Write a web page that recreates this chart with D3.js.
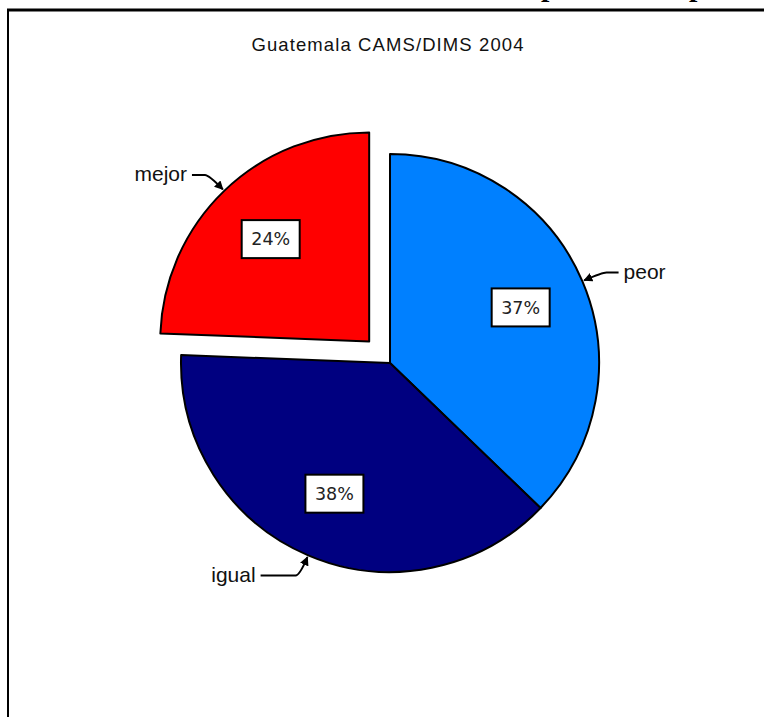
<!DOCTYPE html>
<html>
<head>
<meta charset="utf-8">
<script src="https://cdn.jsdelivr.net/npm/d3@7/dist/d3.min.js"></script>
<style>
  body { margin: 0; background: #fff; }
  svg { display: block; }
  .cat { font-family: "Liberation Sans", Arial, sans-serif; font-size: 21px; fill: #111; }
  .pct { font-family: "DejaVu Sans", Verdana, sans-serif; font-size: 17.5px; fill: #222; }
</style>
</head>
<body>
<div id="chart"></div>
<script>
// slice data, clockwise from 12 o'clock
const categories = ["peor", "igual", "mejor"];
const values = [37.2, 38.4, 24.4];
const colors = ["#0080ff", "#000080", "#ff0000"];
const exploded = ["mejor"];
const title = "Guatemala CAMS/DIMS 2004";

const width = 764, height = 717;
const cx = 390, cy = 363, radius = 209;
const explodeBy = 30;
const labelRadius = 142;
// horizontal part of each leader line
const leaderLen = {peor: 16, igual: 39, mejor: 17};

const svg = d3.select("#chart").append("svg")
  .attr("width", width)
  .attr("height", height);

// frame (only top and left edges show)
svg.append("line")
  .attr("x1", 7).attr("x2", width).attr("y1", 10).attr("y2", 10)
  .attr("stroke", "#000").attr("stroke-width", 3);
svg.append("line")
  .attr("x1", 8).attr("x2", 8).attr("y1", 9).attr("y2", height)
  .attr("stroke", "#000").attr("stroke-width", 2);

// cut-off slide heading above the frame
svg.selectAll("text.head")
  .data([541, 689])
  .join("text")
    .attr("class", "head")
    .attr("x", d => d)
    .attr("y", -4)
    .attr("font-family", "Liberation Serif, Times New Roman, serif")
    .attr("font-weight", "bold")
    .attr("font-size", 30)
    .text("p");

svg.append("text")
  .attr("x", 388)
  .attr("y", 51)
  .attr("text-anchor", "middle")
  .attr("font-family", "Liberation Sans, Arial, sans-serif")
  .attr("font-size", 18.5)
  .attr("letter-spacing", 1.1)
  .attr("fill", "#111")
  .text(title);

svg.append("defs").append("marker")
  .attr("id", "arrow")
  .attr("viewBox", "0 0 10 10")
  .attr("refX", 9).attr("refY", 5)
  .attr("markerWidth", 9).attr("markerHeight", 9)
  .attr("markerUnits", "userSpaceOnUse")
  .attr("orient", "auto")
  .append("path")
    .attr("d", "M0,0 L10,5 L0,10 Z")
    .attr("fill", "#000");

const slices = categories.map((c, i) => ({name: c, value: values[i], color: colors[i]}));
const pie = d3.pie().sort(null).value(d => d.value).startAngle(0);
const arcs = pie(slices);
const arc = d3.arc().innerRadius(0).outerRadius(radius);

const midAngle = d => (d.startAngle + d.endAngle) / 2;
const offsetOf = d => {
  if (!exploded.includes(d.data.name)) return [0, 0];
  const a = midAngle(d);
  return [Math.sin(a) * explodeBy, -Math.cos(a) * explodeBy];
};

const g = svg.append("g").attr("transform", `translate(${cx},${cy})`);

const sliceG = g.selectAll("g.slice")
  .data(arcs)
  .join("g")
    .attr("class", "slice")
    .attr("transform", d => `translate(${offsetOf(d)})`);

sliceG.append("path")
  .attr("d", arc)
  .attr("fill", d => d.data.color)
  .attr("stroke", "#000")
  .attr("stroke-width", 2)
  .attr("stroke-linejoin", "round");

// percentage boxes
const total = d3.sum(values);
sliceG.each(function(d) {
  const a = midAngle(d);
  const x = Math.sin(a) * labelRadius, y = -Math.cos(a) * labelRadius;
  const sel = d3.select(this);
  sel.append("rect")
    .attr("x", x - 29).attr("y", y - 19)
    .attr("width", 58).attr("height", 38)
    .attr("fill", "#fff")
    .attr("stroke", "#000")
    .attr("stroke-width", 2);
  sel.append("text")
    .attr("class", "pct")
    .attr("x", x).attr("y", y)
    .attr("text-anchor", "middle")
    .attr("dy", "0.36em")
    .text(Math.round(d.data.value / total * 100) + "%");
});

// category names with leader arrows
sliceG.each(function(d) {
  const a = midAngle(d);
  const sx = Math.sin(a), sy = -Math.cos(a);
  const tip = [sx * (radius + 2), sy * (radius + 2)];
  const elbow = [sx * (radius + 22), sy * (radius + 22)];
  const dir = sx >= 0 ? 1 : -1;
  const end = [elbow[0] + dir * leaderLen[d.data.name], elbow[1]];
  const bend = [elbow[0] + dir * 4, elbow[1]];
  const sel = d3.select(this);
  sel.append("path")
    .attr("d", `M${end}L${bend}Q${elbow} ${tip}`)
    .attr("fill", "none")
    .attr("stroke", "#000")
    .attr("stroke-width", 2)
    .attr("marker-end", "url(#arrow)");
  sel.append("text")
    .attr("class", "cat")
    .attr("x", end[0] + dir * 5)
    .attr("y", end[1])
    .attr("dy", "0.3em")
    .attr("text-anchor", dir > 0 ? "start" : "end")
    .text(d.data.name);
});
</script>
</body>
</html>
